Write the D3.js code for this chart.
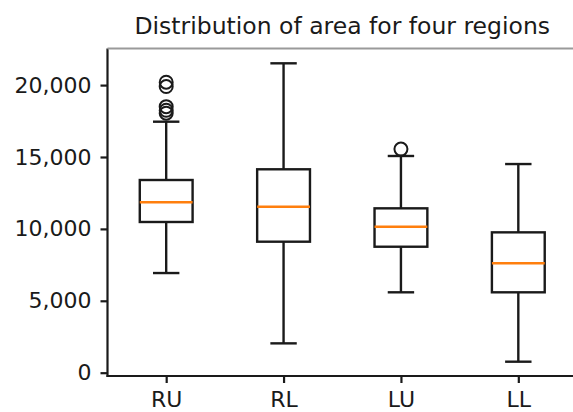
<!DOCTYPE HTML>
<html>
  <head>
    <meta charset="utf-8">
    <title>Distribution of area for four regions</title>
    <style>
      body { margin: 0; background: #fff; }
      svg { display: block; }
      text { font-family: 'DejaVu Sans', sans-serif; fill: #1a1a1a; }
    </style>
  </head>
  <body>
    <svg width="573" height="412"></svg>
    <script src="https://cdn.jsdelivr.net/npm/d3@7/dist/d3.min.js" charset="utf-8"></script>
    <script>
      // values
      var categories = ['RU', 'RL', 'LU', 'LL'];
      var whiskerLow = [6930, 2040, 5590, 765];
      var q1 = [10480, 9110, 8760, 5590];
      var median = [11850, 11545, 10150, 7610];
      var q3 = [13400, 14145, 11430, 9760];
      var whiskerHigh = [17455, 21515, 15070, 14510];
      var outliers = [[20200, 19900, 18500, 18250, 18050], [], [15550], []];
      var yTicks = [0, 5000, 10000, 15000, 20000];

      var svg = d3.select('svg');
      var plotLeft = 107.5, plotRight = 577, plotTop = 48.5, plotBottom = 376;

      var x = d3.scaleLinear().domain([0.5, 4.5]).range([plotLeft, plotRight]);
      var y = d3.scaleLinear().domain([-230, 22545]).range([plotBottom, plotTop]);

      var boxW = 0.45 * (x(1) - x(0));
      var capW = boxW / 2;

      // spines
      var spines = svg.append('g').attr('stroke', '#1a1a1a').attr('stroke-width', 2.2);
      spines.append('line').attr('x1', plotLeft).attr('x2', plotLeft).attr('y1', plotTop).attr('y2', plotBottom + 1);
      spines.append('line').attr('x1', plotLeft - 1).attr('x2', 573).attr('y1', plotBottom).attr('y2', plotBottom);
      spines.append('line').attr('x1', plotLeft).attr('x2', 573).attr('y1', plotTop).attr('y2', plotTop)
        .attr('stroke', '#9a9a9a');

      // y axis
      var yAxis = svg.append('g')
        .attr('transform', 'translate(' + plotLeft + ',0)')
        .call(d3.axisLeft(y).tickValues(yTicks).tickFormat(d3.format(',')).tickSize(7).tickPadding(9));
      yAxis.select('.domain').remove();
      yAxis.selectAll('line').attr('stroke', '#1a1a1a').attr('stroke-width', 2.2);
      yAxis.selectAll('text').style('font-size', '22px').attr('fill', '#1a1a1a');

      // x axis
      var xAxis = svg.append('g')
        .attr('transform', 'translate(0,' + plotBottom + ')')
        .call(d3.axisBottom(x).tickValues([1, 2, 3, 4])
          .tickFormat(function(d) { return categories[d - 1]; }).tickSize(7).tickPadding(8));
      xAxis.select('.domain').remove();
      xAxis.selectAll('line').attr('stroke', '#1a1a1a').attr('stroke-width', 2.2);
      xAxis.selectAll('text').style('font-size', '22px').attr('fill', '#1a1a1a');

      // boxes
      var boxes = svg.selectAll('g.box')
          .data(categories)
        .enter().append('g')
          .attr('class', 'box')
          .attr('stroke', '#1a1a1a')
          .attr('stroke-width', 2.4)
          .attr('fill', 'none');

      boxes.each(function(d, i) {
        var g = d3.select(this);
        var cx = x(i + 1);
        // whiskers
        g.append('line').attr('x1', cx).attr('x2', cx).attr('y1', y(q3[i])).attr('y2', y(whiskerHigh[i]));
        g.append('line').attr('x1', cx).attr('x2', cx).attr('y1', y(q1[i])).attr('y2', y(whiskerLow[i]));
        // caps
        g.append('line').attr('x1', cx - capW / 2).attr('x2', cx + capW / 2)
          .attr('y1', y(whiskerHigh[i])).attr('y2', y(whiskerHigh[i]));
        g.append('line').attr('x1', cx - capW / 2).attr('x2', cx + capW / 2)
          .attr('y1', y(whiskerLow[i])).attr('y2', y(whiskerLow[i]));
        // box
        g.append('rect')
          .attr('x', cx - boxW / 2)
          .attr('y', y(q3[i]))
          .attr('width', boxW)
          .attr('height', y(q1[i]) - y(q3[i]));
        // median
        g.append('line').attr('x1', cx - boxW / 2).attr('x2', cx + boxW / 2)
          .attr('y1', y(median[i])).attr('y2', y(median[i]))
          .attr('stroke', '#ff7f0e');
        // fliers
        g.selectAll('circle')
            .data(outliers[i])
          .enter().append('circle')
            .attr('cx', cx)
            .attr('cy', function(v) { return y(v); })
            .attr('r', 6.5)
            .attr('stroke-width', 2);
      });

      // title
      svg.append('text')
        .attr('x', (plotLeft + plotRight) / 2)
        .attr('y', 34)
        .attr('text-anchor', 'middle')
        .style('font-size', '23.5px')
        .text('Distribution of area for four regions');
    </script>
  </body>
</html>
